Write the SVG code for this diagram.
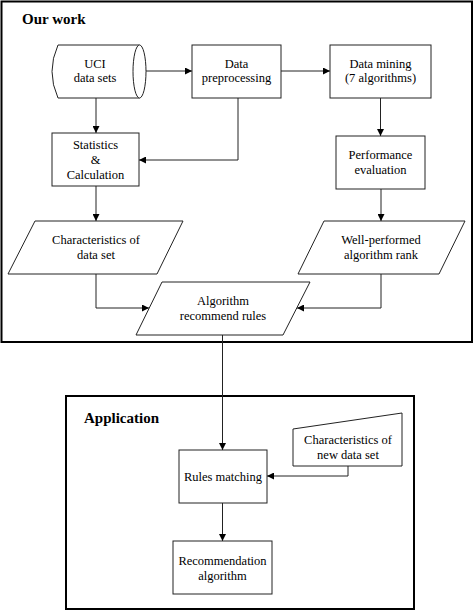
<svg xmlns="http://www.w3.org/2000/svg" width="475" height="611" viewBox="0 0 475 611">
<defs>
<style>
.frame{fill:none;stroke:#000;stroke-width:2}
.shape{fill:#fff;stroke:#222;stroke-width:1}
.t{font-family:'Liberation Serif','Times New Roman','DejaVu Serif',serif;font-size:12.5px;fill:#000;text-anchor:middle}
.title{font-family:'Liberation Serif','Times New Roman','DejaVu Serif',serif;font-size:15px;font-weight:bold;fill:#000}
.c{fill:none;stroke:#222;stroke-width:1;marker-end:url(#ah)}
</style>
<marker id="ah" viewBox="0 0 10 10" refX="10" refY="5" markerWidth="7" markerHeight="7" markerUnits="userSpaceOnUse" orient="auto">
<path d="M0,0 L10,5 L0,10 Z" fill="#000"/>
</marker>
</defs>
<rect width="475" height="611" fill="#fff"/>

<g id="our-work">
<rect class="frame" x="1.5" y="1.5" width="470.5" height="340.5"/>
<text class="title" x="22" y="24" font-family="Liberation Serif, serif">Our work</text>
</g>

<g id="application">
<rect class="frame" x="66" y="396" width="348" height="213"/>
<text class="title" x="84" y="423" font-family="Liberation Serif, serif">Application</text>
</g>

<g id="connectors">
<path class="c" d="M146,71 L192,71"/>
<path class="c" d="M281,71 L330,71"/>
<path class="c" d="M96,98 L96,133"/>
<path class="c" d="M238,98 L238,160 L139,160"/>
<path class="c" d="M380.5,98 L380.5,136"/>
<path class="c" d="M96,186 L96,221"/>
<path class="c" d="M381,189 L381,221"/>
<path class="c" d="M96,274 L96,308 L149,308"/>
<path class="c" d="M381,274 L381,308 L297,308"/>
<path class="c" d="M222.5,335 L222.5,450"/>
<path class="c" d="M348,466 L348,476 L267,476"/>
<path class="c" d="M222.5,503 L222.5,541"/>
</g>

<g id="uci">
<path class="shape" d="M58,45 L139.5,45 A6.5,26.5 0 0 1 139.5,98 L58,98 Q46,71.5 58,45 Z"/>
<path class="shape" d="M139.5,45 A6.5,26.5 0 0 0 139.5,98"/>
<text class="t" x="95" y="68">UCI</text>
<text class="t" x="95" y="82">data sets</text>
</g>

<g id="preprocessing">
<rect class="shape" x="192" y="45" width="89" height="53"/>
<text class="t" x="236.5" y="68">Data</text>
<text class="t" x="236.5" y="82">preprocessing</text>
</g>

<g id="mining">
<rect class="shape" x="330" y="45" width="101" height="53"/>
<text class="t" x="380.5" y="68">Data mining</text>
<text class="t" x="380.5" y="82">(7 algorithms)</text>
</g>

<g id="statistics">
<rect class="shape" x="52" y="133" width="87" height="53"/>
<text class="t" x="95.5" y="149">Statistics</text>
<text class="t" x="95.5" y="164">&amp;</text>
<text class="t" x="95.5" y="179">Calculation</text>
</g>

<g id="performance">
<rect class="shape" x="336" y="136" width="89" height="53"/>
<text class="t" x="380.5" y="159">Performance</text>
<text class="t" x="380.5" y="174">evaluation</text>
</g>

<g id="characteristics">
<polygon class="shape" points="35,221 183,221 157,274 8,274"/>
<text class="t" x="96" y="244">Characteristics of</text>
<text class="t" x="96" y="259">data set</text>
</g>

<g id="well-performed">
<polygon class="shape" points="324,221 465,221 439,274 298,274"/>
<text class="t" x="381" y="244">Well-performed</text>
<text class="t" x="381" y="259">algorithm rank</text>
</g>

<g id="rules">
<polygon class="shape" points="162,282 310,282 283,335 136,335"/>
<text class="t" x="223" y="305">Algorithm</text>
<text class="t" x="223" y="320">recommend rules</text>
</g>

<g id="new-data">
<polygon class="shape" points="293,429 402,413 402,466 293,466"/>
<text class="t" x="348" y="444">Characteristics of</text>
<text class="t" x="348" y="459">new data set</text>
</g>

<g id="matching">
<rect class="shape" x="179" y="450" width="88" height="53"/>
<text class="t" x="223" y="481">Rules matching</text>
</g>

<g id="recommendation">
<rect class="shape" x="173" y="541" width="99" height="53"/>
<text class="t" x="222.5" y="565">Recommendation</text>
<text class="t" x="222.5" y="580">algorithm</text>
</g>
</svg>
